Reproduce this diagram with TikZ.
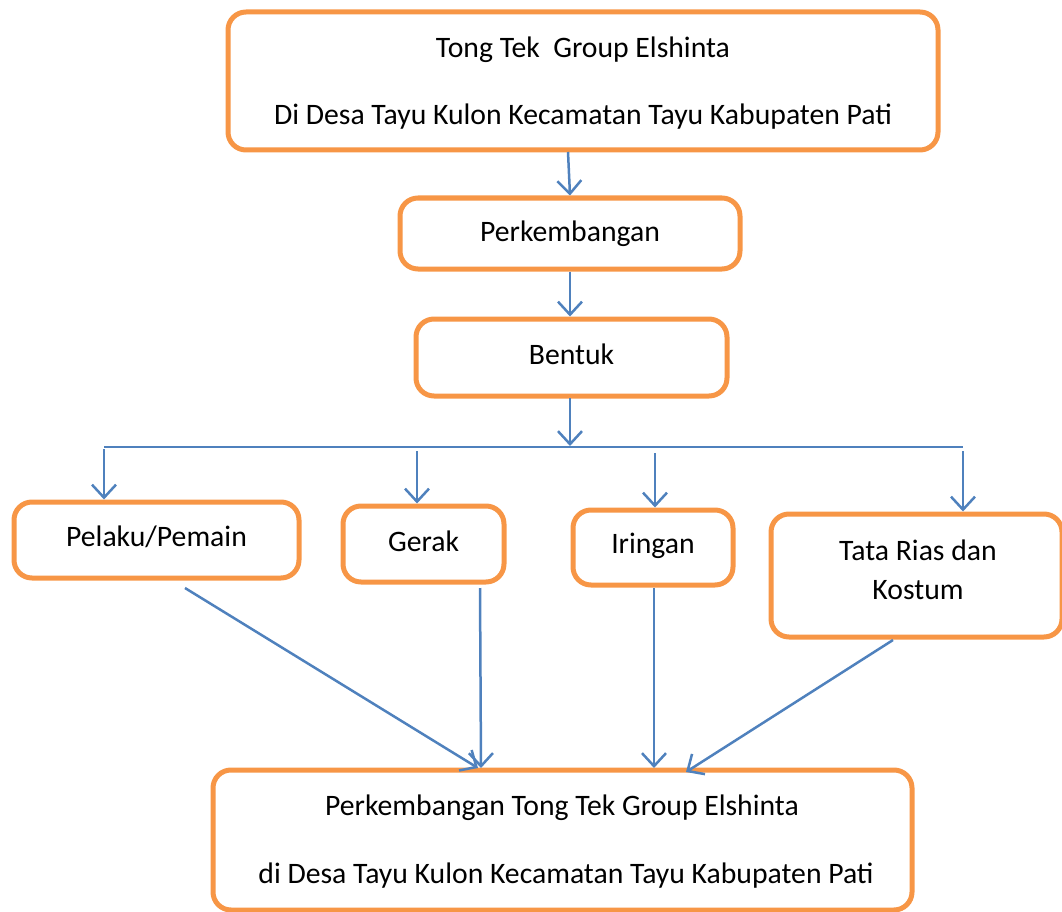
\documentclass[tikz,border=0pt]{standalone}
\usepackage{fontspec}
\setmainfont{Carlito}
\usetikzlibrary{arrows.meta,calc}
\definecolor{boxorange}{HTML}{F79646}
\definecolor{arrowblue}{HTML}{4F81BD}
\tikzset{
  box/.style={draw=boxorange, line width=5pt, rounded corners=18pt, fill=white, inner sep=0pt, align=center, font=\fontsize{29.7}{36}\selectfont},
  lbl/.style={font=\fontsize{29.7}{36}\selectfont, inner sep=0pt},
  conn/.style={draw=arrowblue, line width=2.5pt},
  arr/.style={conn, -{Straight Barb[length=13pt, width=24pt, line width=2.5pt]}}
}
\begin{document}
\begin{tikzpicture}[x=1pt,y=-1pt]
\useasboundingbox (0,0) rectangle (1062,912);
\node[box, minimum width=710pt, minimum height=138pt] (top) at (583,81) {};
\node[lbl] (t1) at (583,50) {Tong Tek\ \ Group Elshinta};
\node[lbl] (t2) at (583,117) {Di Desa Tayu Kulon Kecamatan Tayu Kabupaten Pati};
\node[box, minimum width=340pt, minimum height=71pt] (perk) at (570,233.5) {};
\node[lbl] at (570,234) {Perkembangan};
\node[box, minimum width=311pt, minimum height=77pt] (bentuk) at (571.5,357.5) {};
\node[lbl] at (571.5,354) {Bentuk};
\node[box, minimum width=285pt, minimum height=76pt] (pelaku) at (156.5,540) {};
\node[lbl] at (156.5,537) {Pelaku/Pemain};
\node[box, minimum width=161pt, minimum height=76pt] (gerak) at (423.5,544) {};
\node[lbl] at (423.5,541) {Gerak};
\node[box, minimum width=160pt, minimum height=75pt] (iringan) at (653,547.5) {};
\node[lbl] at (653,546) {Iringan};
\node[box, minimum width=291pt, minimum height=123pt] (tata) at (916.5,575.5) {};
\node[lbl] at (918,550) {Tata Rias dan};
\node[lbl] at (918,590) {Kostum};
\node[box, minimum width=699pt, minimum height=140pt] (bottom) at (562.5,840) {};
\node[lbl] at (562,808) {Perkembangan Tong Tek Group Elshinta};
\node[lbl] at (566,876) {di Desa Tayu Kulon Kecamatan Tayu Kabupaten Pati};
% connectors
\draw[arr] (568,152) -- (perk.north -| 570,0);
\draw[arr] (perk.south) -- (bentuk.north -| perk.south);
\coordinate (busL) at (104,447);
\coordinate (busR) at (963,447);
\draw[conn] (busL) -- (busR);
\draw[arr] (570,398) -- (570,446);
\coordinate (d1) at (104,449);
\coordinate (d2) at (417,451);
\coordinate (d3) at (655,453);
\coordinate (d4) at (963,451);
\draw[arr] (d1) -- (d1 |- pelaku.north);
\draw[arr] (d2) -- (d2 |- gerak.north);
\draw[arr] (d3) -- (d3 |- iringan.north);
\draw[arr] (d4) -- (d4 |- tata.north);
\coordinate (s1) at (185,588);
\coordinate (s2) at (480,588);
\coordinate (s3) at (654,588);
\coordinate (s4) at (893,640);
\coordinate (e1) at (478,768);
\coordinate (e2) at (481,768);
\coordinate (e3) at (654,768);
\coordinate (e4) at (686,772);
\draw[arr] (s1) -- (e1);
\draw[arr] (s2) -- (e2);
\draw[arr] (s3) -- (e3);
\draw[arr] (s4) -- (e4);
\end{tikzpicture}
\end{document}
